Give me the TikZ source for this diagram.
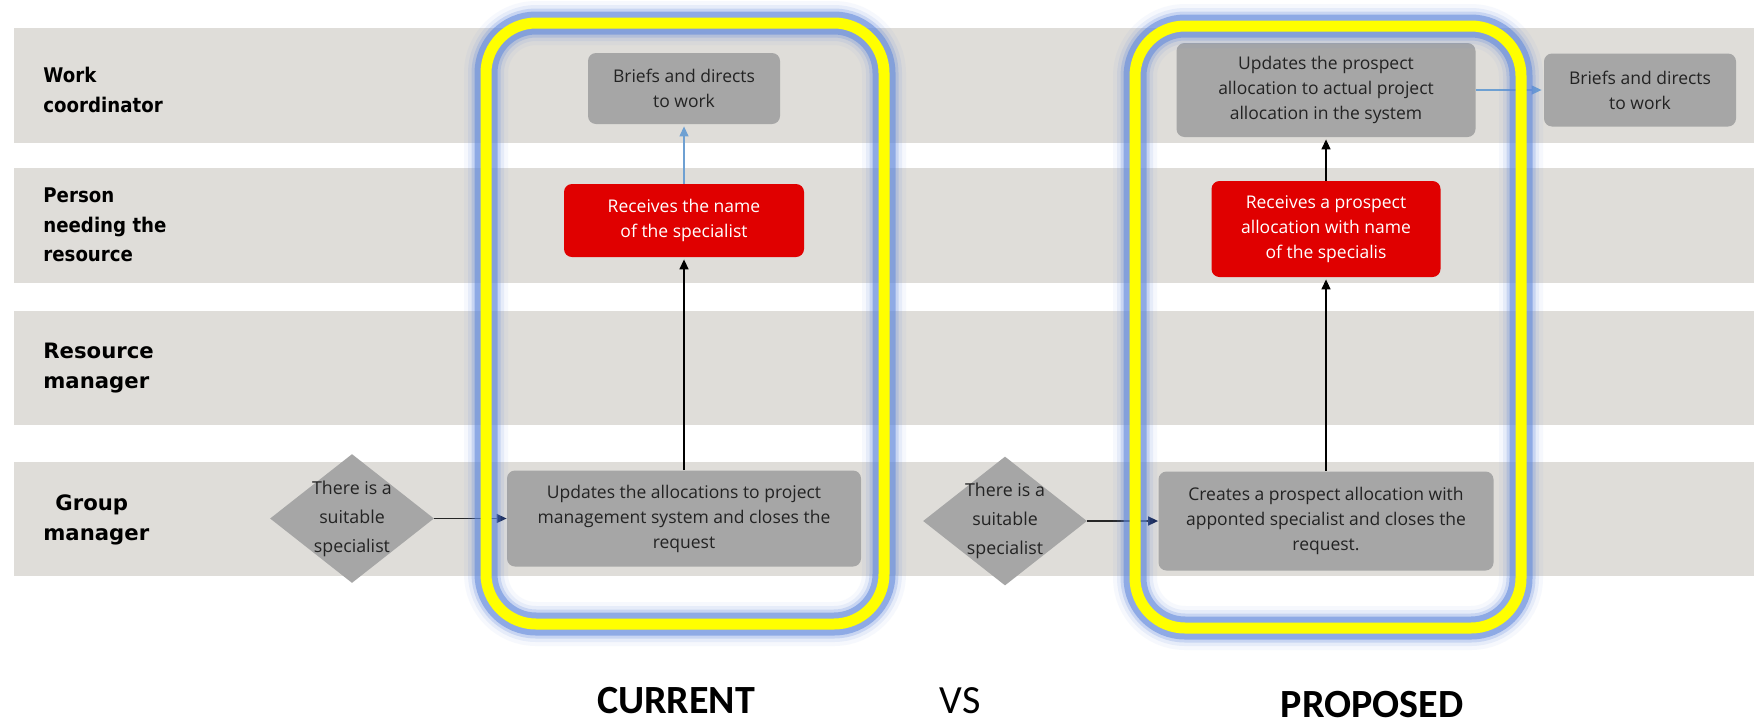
\documentclass[tikz,border=0pt]{standalone}
\usepackage{fontspec}
\setmainfont{Open Sans}
\newfontfamily\lanefont{DejaVu Sans}[FakeStretch=0.9]
\newfontfamily\lanefontwide{DejaVu Sans}
\newfontfamily\capfont{Carlito}
\usetikzlibrary{shapes.geometric,arrows.meta}

\definecolor{lanegray}{RGB}{223,221,217}
\definecolor{boxgray}{RGB}{166,166,166}
\definecolor{actred}{RGB}{224,0,0}
\definecolor{linkblue}{RGB}{110,160,210}
\definecolor{glowblue}{RGB}{95,135,220}
\definecolor{loopyellow}{RGB}{255,255,0}
\definecolor{tipnavy}{RGB}{25,40,85}
\definecolor{boxtext}{RGB}{35,35,35}

% highlight loop: blue halo under a thick yellow rounded frame
\newcommand{\hiliteloop}[2]{%
  \foreach \w/\o in {22pt/0.05, 18pt/0.1, 14.5pt/0.22, 11.5pt/0.55}
    \draw[glowblue, line width=\w, opacity=\o, rounded corners=25pt] #1 rectangle #2;
  \draw[loopyellow, line width=5.5pt, rounded corners=25pt] #1 rectangle #2;
}

\tikzset{
  task/.style={rectangle, rounded corners=4pt, fill=boxgray, text=boxtext,
    font=\fontsize{8.75pt}{12.5pt}\selectfont, align=center, inner sep=0pt},
  hottask/.style={task, fill=actred, text=white},
  decision/.style={diamond, fill=boxgray, inner sep=0pt, aspect=1.27,
    minimum width=82pt, minimum height=64.5pt},
  dectext/.style={text=boxtext, font=\fontsize{8.9pt}{14.5pt}\selectfont,
    align=center, inner sep=0pt},
  lanelabel/.style={anchor=west, align=left, inner sep=0pt, text=black,
    font=\lanefont\bfseries\fontsize{10.1pt}{14.8pt}\selectfont},
  lanelabelwide/.style={lanelabel,
    font=\lanefontwide\bfseries\fontsize{10.6pt}{15pt}\selectfont},
  flow/.style={-{Triangle[length=5pt,width=4.5pt]}, line width=0.75pt, black,
    shorten >=1pt},
  handoff/.style={-{Triangle[length=5pt,width=4.5pt]}, line width=0.6pt,
    linkblue, shorten >=1pt},
  entry/.style={-{Triangle[length=5pt,width=4.5pt,color=tipnavy]},
    line width=0.75pt, draw=black!85},
  caption/.style={anchor=base, inner sep=0pt,
    font=\capfont\bfseries\fontsize{20pt}{24pt}\selectfont},
}

\begin{document}
\begin{tikzpicture}[x=0.5pt, y=-0.5pt]
\useasboundingbox (0,0) rectangle (1754,724);
\fill[white] (0,0) rectangle (1754,724);

% swim lanes
\fill[lanegray] (14,28)  rectangle (1754,143);
\fill[lanegray] (14,168) rectangle (1754,283);
\fill[lanegray] (14,311) rectangle (1754,425);
\fill[lanegray] (14,462) rectangle (1754,576);

\node[lanelabel] (lwork) at (43,90) {Work\\coordinator};
\node[lanelabel] (lperson) at (43,225) {Person\\needing the\\resource};
\node[lanelabelwide] (lres) at (43,368) {Resource\\manager};
\node[lanelabelwide] (lgroup) at (43,520) {\hspace*{6pt}Group\\manager};

% current process
\node[decision] (cdec) at (352,518.5) {};
\node[dectext] (cdect) at (cdec) {There is a\\suitable\\specialist};
\node[task, minimum width=177pt, minimum height=48pt] (cupd) at (684,518.5)
  {Updates the allocations to project\\management system and closes the\\request};
\node[hottask, minimum width=120pt, minimum height=36.5pt] (cred) at (684,220.5)
  {Receives the name\\of the specialist};
\node[task, minimum width=96pt, minimum height=35.5pt] (cbrief) at (684,88.5)
  {Briefs and directs\\to work};

\draw[entry] (cdec.east) -- (cupd.west);
\draw[flow] (cupd.north) -- (cred.south);
\draw[handoff] (cred.north) -- (cbrief.south);

% proposed process
\node[decision] (pdec) at (1005,521) {};
\node[dectext] (pdect) at (pdec) {There is a\\suitable\\specialist};
\node[task, minimum width=167.5pt, minimum height=49.5pt] (pcre) at (1326,521)
  {Creates a prospect allocation with\\apponted specialist and closes the\\request.};
\node[hottask, minimum width=114.5pt, minimum height=48pt] (pred) at (1326,229)
  {Receives a prospect\\allocation with name\\of the specialis};
\node[task, minimum width=149.5pt, minimum height=47pt] (ppro) at (1326,90)
  {Updates the prospect\\allocation to actual project\\allocation in the system};
\node[task, minimum width=96pt, minimum height=36.5pt] (pbrief) at (1640,90)
  {Briefs and directs\\to work};

\draw[entry] (pdec.east) -- (pcre.west);
\draw[flow] (pcre.north) -- (pred.south);
\draw[flow] (pred.north) -- (ppro.south);
\draw[handoff] (ppro.east) -- (pbrief.west);

% highlighted sections
\hiliteloop{(486,23)}{(884,624)}
\hiliteloop{(1135,26)}{(1521,628)}

% section captions
\node[caption] (tcur) at (676,713) {CURRENT};
\node[caption, font=\capfont\fontsize{20pt}{24pt}\selectfont] (tvs) at (960,713) {VS};
\node[caption] (tprop) at (1372,717) {PROPOSED};
\end{tikzpicture}
\end{document}
